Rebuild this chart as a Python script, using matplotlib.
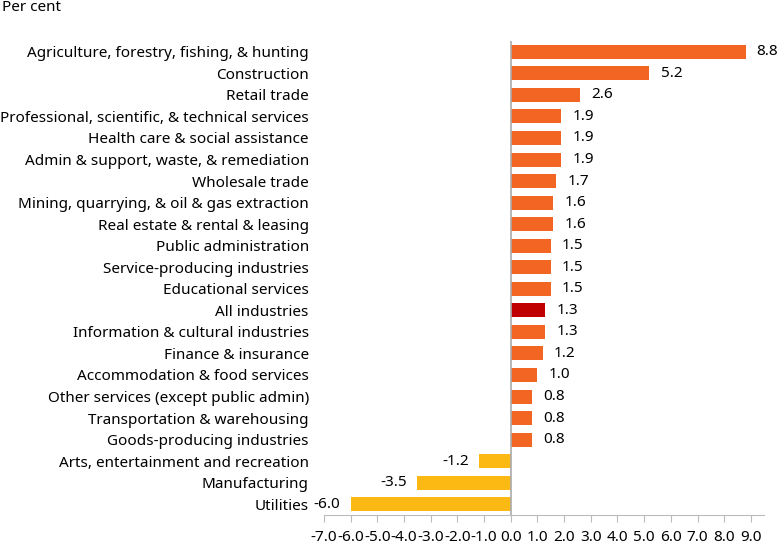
import matplotlib
matplotlib.use("Agg")
import matplotlib.pyplot as plt
import numpy as np

plt.rcParams['font.family'] = ['Noto Sans', 'DejaVu Sans']

industries = [
    'Agriculture, forestry, fishing, & hunting',
    'Construction',
    'Retail trade',
    'Professional, scientific, & technical services',
    'Health care & social assistance',
    'Admin & support, waste, & remediation',
    'Wholesale trade',
    'Mining, quarrying, & oil & gas extraction',
    'Real estate & rental & leasing',
    'Public administration',
    'Service-producing industries',
    'Educational services',
    'All industries',
    'Information & cultural industries',
    'Finance & insurance',
    'Accommodation & food services',
    'Other services (except public admin)',
    'Transportation & warehousing',
    'Goods-producing industries',
    'Arts, entertainment and recreation',
    'Manufacturing',
    'Utilities',
]
values = [8.8, 5.2, 2.6, 1.9, 1.9, 1.9, 1.7, 1.6, 1.6, 1.5, 1.5, 1.5,
          1.3, 1.3, 1.2, 1.0, 0.8, 0.8, 0.8, -1.2, -3.5, -6.0]

pos_color = '#F26522'
neg_color = '#FDB913'
total_color = '#C00000'

colors = []
for name, v in zip(industries, values):
    if name == 'All industries':
        colors.append(total_color)
    elif v < 0:
        colors.append(neg_color)
    else:
        colors.append(pos_color)

fig = plt.figure(figsize=(7.79, 5.44), dpi=100)
ax = fig.add_axes([0.416, 0.0533, 0.565, 0.8713])

y = np.arange(len(industries))
ax.barh(y, values, height=0.65, color=colors, zorder=2)

for yi, v in zip(y, values):
    if v >= 0:
        ax.text(v + 0.42, yi, f'{v:.1f}', ha='left', va='center', fontsize=11)
    else:
        ax.text(v - 0.38, yi, f'{v:.1f}', ha='right', va='center', fontsize=11)

ax.set_ylim(len(industries) - 0.5, -0.5)
ax.set_xlim(-7, 9.5)
ax.set_yticks(y)
ax.set_yticklabels(industries, fontsize=11)
ax.tick_params(axis='y', length=0, pad=11)

ax.set_xticks(np.arange(-7, 10, 1))
ax.set_xticklabels([f'{t:.1f}' for t in np.arange(-7, 10, 1)], fontsize=11)
ax.tick_params(axis='x', length=5, color='#bbbbbb', pad=6)

for s in ['top', 'right', 'left']:
    ax.spines[s].set_visible(False)
ax.spines['bottom'].set_color('#bbbbbb')
ax.axvline(0, color='#aaaaaa', linewidth=1.2, zorder=3)

fig.text(0.002, 0.987, 'Per cent', fontsize=11, ha='left', va='center')

fig.savefig('out.png', dpi=100)
